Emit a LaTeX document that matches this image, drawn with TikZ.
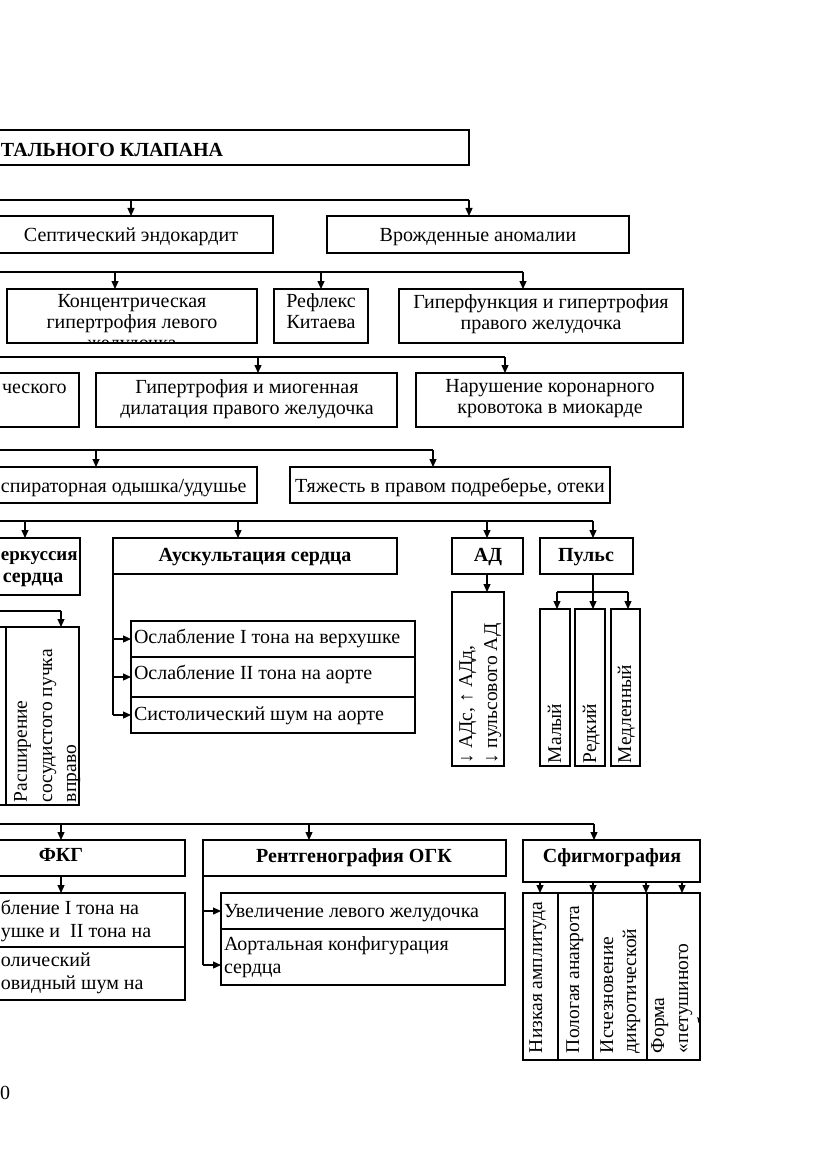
\documentclass[tikz,border=0pt]{standalone}
\usepackage{fontspec}
\setmainfont{Liberation Serif}
\usetikzlibrary{arrows.meta}
\newcommand{\fs}{\fontsize{20}{22}\selectfont}
\newcommand{\fr}{\fontsize{19.5}{22}\selectfont}
\newcommand{\bxn}[5]{\node[bx, minimum width={(#4)-(#2)}, minimum height={(#5)-(#3)}] (#1) at (#2,#3) {};}
\tikzset{
  bx/.style={draw, line width=1.2pt, inner sep=0pt, outer sep=0pt, anchor=north west},
  tx/.style={inner sep=0pt, outer sep=0pt, font=\fs, anchor=base},
  tb/.style={tx, font=\fs\bfseries},
  tl/.style={tx, anchor=base west},
  rt/.style={inner sep=0pt, outer sep=0pt, font=\fr, rotate=90, anchor=base west},
  ln/.style={line width=1.2pt},
  arr/.style={line width=1.2pt, -{Triangle[length=8pt,width=7pt]}},
}
\begin{document}
\begin{tikzpicture}[x=1pt,y=-1pt]
\useasboundingbox (0,0) rectangle (831,1174);
\fill[white] (0,0) rectangle (831,1174);
\clip (0,0) rectangle (831,1174);

% title
\bxn{top}{-40}{130}{469}{165}
\node[tb, anchor=base west] (topt) at (1,157) {ТАЛЬНОГО КЛАПАНА};

% level A
\bxn{sept}{-40}{216}{273}{253}
\node[tx] (septt) at (131,242) {Септический эндокардит};
\bxn{vrozh}{327}{216}{629}{253}
\node[tx] (vrozht) at (478,242) {Врожденные аномалии};
\coordinate (busA) at (-10,200);
\draw[ln] (busA) -- (469,200);
\draw[arr] (131,200) -- (131,0|-sept.north);
\draw[arr] (469,200) -- (469,0|-vrozh.north);

% level B
\bxn{konc}{7}{289}{257}{343}
\begin{scope}
\clip (konc.north west) rectangle (konc.south east);
\node[tx] (konct1) at (132,307) {Концентрическая};
\node[tx] (konct2) at (132,328) {гипертрофия левого};
\node[tx] (konct3) at (132,349) {желудочка};
\end{scope}
\bxn{refl}{274}{289}{368}{343}
\node[tx] (reflt1) at (321,307) {Рефлекс};
\node[tx] (reflt2) at (321,328) {Китаева};
\bxn{giperf}{399}{289}{683}{343}
\node[tx] (giperft1) at (541,308) {Гиперфункция и гипертрофия};
\node[tx] (giperft2) at (541,329) {правого желудочка};
\coordinate (busB) at (-10,272);
\draw[ln] (busB) -- (523,272);
\draw[arr] (115,272) -- (115,0|-konc.north);
\draw[arr] (321,272) -- (321,0|-refl.north);
\draw[arr] (523,272) -- (523,0|-giperf.north);

% level C
\bxn{chesk}{-40}{373}{79}{427}
\node[tl] (cheskt) at (2,393) {ческого};
\bxn{giptr}{96}{373}{397}{427}
\node[tx] (giptrt1) at (247,393) {Гипертрофия и миогенная};
\node[tx] (giptrt2) at (247,414) {дилатация правого желудочка};
\bxn{narush}{416}{373}{683}{427}
\node[tx] (narusht1) at (550,392) {Нарушение коронарного};
\node[tx] (narusht2) at (550,413) {кровотока в миокарде};
\coordinate (busC) at (-10,357);
\draw[ln] (busC) -- (505,357);
\draw[arr] (258,357) -- (258,0|-giptr.north);
\draw[arr] (505,357) -- (505,0|-narush.north);

% level D
\bxn{odysh}{-40}{467}{257}{503}
\node[tl] (odysht) at (1,492) {спираторная одышка/удушье};
\bxn{tyazh}{290}{467}{610}{503}
\node[tx] (tyazht) at (450,492) {Тяжесть в правом подреберье, отеки};
\coordinate (busD) at (-10,450);
\draw[ln] (busD) -- (433,450);
\draw[arr] (96,450) -- (96,0|-odysh.north);
\draw[arr] (433,450) -- (433,0|-tyazh.north);

% level E
\bxn{perk}{-40}{538}{80}{595}
\node[tb, anchor=base west, font=\fontsize{19}{21}\selectfont\bfseries] (perkt1) at (1,560) {еркуссия};
\node[tb] (perkt2) at (33,582) {сердца};
\bxn{ausk}{113}{538}{397}{574}
\node[tb] (auskt) at (255,561) {Аускультация сердца};
\bxn{ad}{452}{538}{523}{574}
\node[tb] (adt) at (488,561) {АД};
\bxn{puls}{540}{538}{633}{574}
\node[tb] (pulst) at (586,561) {Пульс};
\coordinate (busE) at (-10,521);
\draw[ln] (busE) -- (593,521);
\draw[arr] (25,521) -- (25,0|-perk.north);
\draw[arr] (238,521) -- (238,0|-ausk.north);
\draw[arr] (487,521) -- (487,0|-ad.north);
\draw[arr] (593,521) -- (593,0|-puls.north);

% auscultation
\bxn{f1}{131}{621}{415}{657}
\node[tl] (f1t) at (134,643) {Ослабление I тона на верхушке};
\bxn{f2}{131}{657}{415}{697}
\node[tl] (f2t) at (134,679) {Ослабление II тона на аорте};
\bxn{f3}{131}{697}{415}{733}
\node[tl] (f3t) at (134,720) {Систолический шум на аорте};
\draw[ln] (ausk.south west) -- (ausk.south west|-f3.west);
\draw[arr] (ausk.south west|-f1.west) -- (f1.west);
\draw[arr] (ausk.south west|-f2.west) -- (f2.west);
\draw[arr] (ausk.south west|-f3.west) -- (f3.west);

% AD
\bxn{adv}{452}{592}{504}{766}
\node[rt] (advt1) at (472,763) {↓ АДс, ↑ АДд,};
\node[rt] (advt2) at (497,763) {↓ пульсового АД};
\draw[arr] (487,574) -- (487,0|-adv.north);

% pulse
\bxn{mal}{540}{609}{570}{766}
\node[rt] (malt) at (561,763) {Малый};
\bxn{red}{575}{609}{605}{766}
\node[rt] (redt) at (596,763) {Редкий};
\bxn{med}{611}{609}{640}{766}
\node[rt] (medt) at (631,763) {Медленный};
\coordinate (pulsj) at (593,592);
\draw[ln] (puls.south-|pulsj) -- (pulsj);
\draw[ln] (557,592) -- (628,592);
\draw[arr] (557,592) -- (557,0|-mal.north);
\draw[arr] (pulsj) -- (593,0|-red.north);
\draw[arr] (628,592) -- (628,0|-med.north);

% percussion
\bxn{ras0}{-40}{627}{6}{805}
\bxn{ras}{6}{627}{79}{805}
\node[rt] (rast1) at (27,802) {Расширение};
\node[rt] (rast2) at (52,802) {сосудистого пучка};
\node[rt] (rast3) at (76,802) {вправо};
\coordinate (busP) at (-10,611);
\draw[ln] (busP) -- (61,611);
\draw[arr] (61,611) -- (61,0|-ras.north);

% level F
\bxn{fkg}{-40}{840}{185}{876}
\node[tb] (fkgt) at (61,861) {ФКГ};
\bxn{rentg}{203}{840}{506}{876}
\node[tb] (rentgt) at (354,862) {Рентгенография ОГК};
\bxn{sfig}{523}{840}{700}{882}
\node[tb] (sfigt) at (612,862) {Сфигмография};
\coordinate (busF) at (-10,824);
\draw[ln] (busF) -- (594,824);
\draw[arr] (61,824) -- (61,0|-fkg.north);
\draw[arr] (309,824) -- (309,0|-rentg.north);
\draw[arr] (594,824) -- (594,0|-sfig.north);

% FKG children
\bxn{k1}{-40}{893}{185}{947}
\node[tl] (k1t1) at (1,914) {бление I тона на};
\node[tl] (k1t2) at (1,937) {ушке и \ II тона на};
\bxn{k2}{-40}{947}{185}{1000}
\node[tl] (k2t1) at (1,966) {олический};
\node[tl] (k2t2) at (1,989) {овидный шум на};
\draw[arr] (61,876) -- (61,0|-k1.north);

% X-ray children
\bxn{l1}{221}{893}{505}{929}
\node[tl] (l1t) at (224,917) {Увеличение левого желудочка};
\bxn{l2}{221}{929}{505}{985}
\node[tl] (l2t1) at (224,950) {Аортальная конфигурация};
\node[tl] (l2t2) at (224,973) {сердца};
\coordinate (l2a) at ([yshift=-8pt]l2.west);
\draw[ln] (rentg.south west) -- (rentg.south west|-l2a);
\draw[arr] (rentg.south west|-l1.west) -- (l1.west);
\draw[arr] (rentg.south west|-l2a) -- (l2a);

% sphygmography children
\bxn{s1}{523}{893}{558}{1060}
\node[rt] (s1t) at (542,1053) {Низкая амплитуда};
\bxn{s2}{558}{893}{593}{1060}
\node[rt] (s2t) at (579,1053) {Пологая анакрота};
\bxn{s3}{593}{893}{647}{1060}
\node[rt] (s3t1) at (613,1053) {Исчезновение};
\node[rt] (s3t2) at (636,1053) {дикротической};
\bxn{s4}{647}{893}{700}{1060}
\begin{scope}
\clip (s4.north west) rectangle (s4.south east);
\node[rt] (s4t1) at (664,1053) {Форма};
\node[rt] (s4t2) at (688,1053) {«петушиного};
\node[rt] (s4t3) at (711,1053) {гребня»};
\end{scope}
\draw[arr] (540,882) -- (540,0|-s1.north);
\draw[arr] (593,882) -- (593,0|-s2.north);
\draw[arr] (646,882) -- (646,0|-s3.north);
\draw[arr] (682,882) -- (682,0|-s4.north);

% page number
\node[tl] (pagen) at (0,1099) {0};
\end{tikzpicture}
\end{document}
